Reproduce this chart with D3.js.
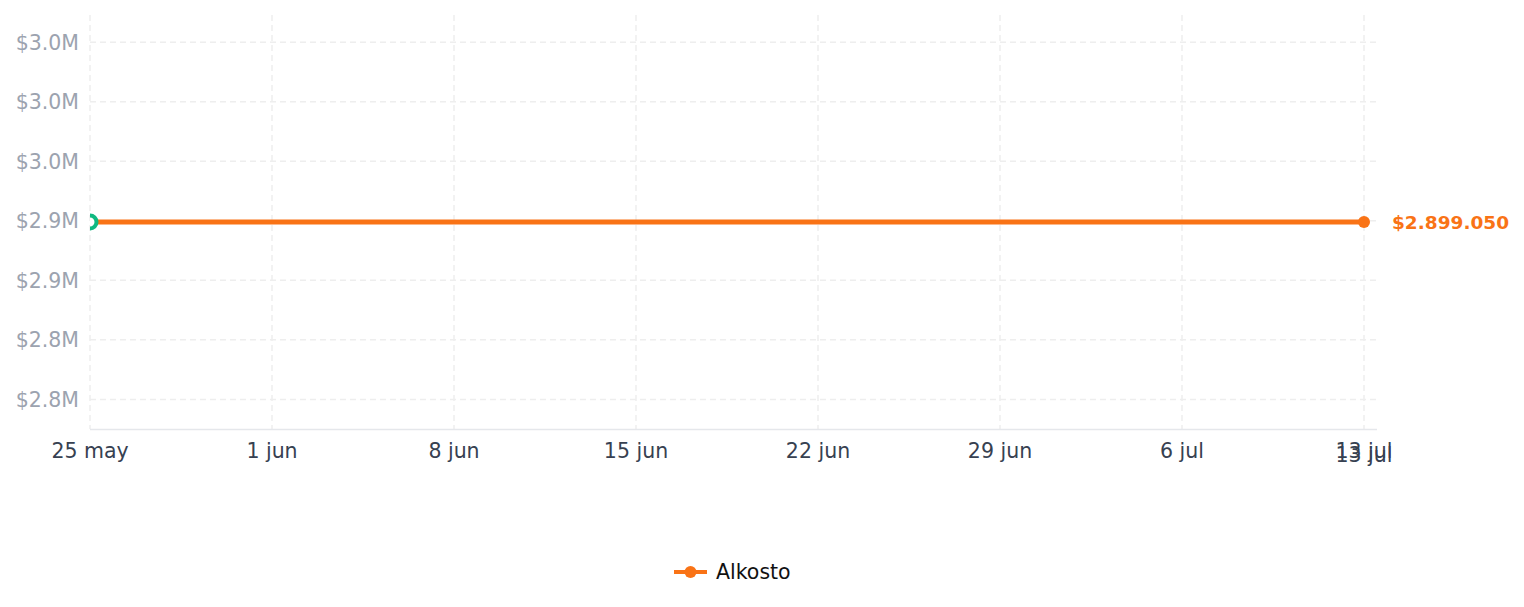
<!DOCTYPE html>
<html>
<head>
<meta charset="utf-8">
<script src="https://cdn.jsdelivr.net/npm/d3@7"></script>
<style>
  body { margin: 0; background: #fff; font-family: "DejaVu Sans", sans-serif; }
</style>
</head>
<body>
<svg id="chart" width="1524" height="607"></svg>
<script>
"use strict";

// data
const seriesName = "Alkosto";
const dates = ["2025-05-25", "2025-07-13"];
const prices = [2899050, 2899050];
const tickDates = ["2025-05-25", "2025-06-01", "2025-06-08", "2025-06-15", "2025-06-22", "2025-06-29", "2025-07-06", "2025-07-13"];
const tickLabels = ["25 may", "1 jun", "8 jun", "15 jun", "22 jun", "29 jun", "6 jul", "13 jul"];
const yTicks = [2750000, 2800000, 2850000, 2900000, 2950000, 3000000, 3050000];

const parse = d3.utcParse("%Y-%m-%d");
const data = dates.map((d, i) => ({ date: parse(d), value: prices[i] }));

const margins = { top: 15, right: 147, bottom: 178, left: 90 };
const w = 1524, h = 607;
const width = w - margins.left - margins.right;
const height = h - margins.top - margins.bottom;

const svg = d3.select("#chart");

// the last date sits half a day short of the right edge
const x = d3.scaleUtc()
  .domain([data[0].date, data[data.length - 1].date])
  .range([0, width - 13]);

const base = prices[0];
const y = d3.scaleLinear()
  .domain([base * 0.94, base * 1.06])
  .range([height, 0]);

const chart = svg.append("g")
  .attr("transform", `translate(${margins.left}, ${margins.top})`);

svg.append("defs").append("clipPath")
  .attr("id", "plot-clip")
  .append("rect")
  .attr("x", 0).attr("y", -10)
  .attr("width", width + 20).attr("height", height + 20);

// grid
chart.append("g").selectAll("line")
  .data(yTicks)
  .enter().append("line")
  .attr("x1", 0).attr("x2", width)
  .attr("y1", d => y(d)).attr("y2", d => y(d))
  .attr("stroke", "#eeeeee").attr("stroke-dasharray", "6 4").attr("stroke-width", 1.5);

chart.append("g").selectAll("line")
  .data(tickDates.map(parse))
  .enter().append("line")
  .attr("x1", d => x(d)).attr("x2", d => x(d))
  .attr("y1", 0).attr("y2", height)
  .attr("stroke", "#eeeeee").attr("stroke-dasharray", "6 4").attr("stroke-width", 1.5);

// y axis labels
chart.append("g").selectAll("text")
  .data(yTicks)
  .enter().append("text")
  .attr("x", -11)
  .attr("y", d => y(d))
  .attr("dy", "0.36em")
  .attr("text-anchor", "end")
  .attr("fill", "#9ca3af")
  .attr("font-size", 20.5)
  .text(d => "$" + (d / 1e6).toFixed(1) + "M");

// x axis
chart.append("line")
  .attr("x1", 0).attr("x2", width)
  .attr("y1", height + 0.5).attr("y2", height + 0.5)
  .attr("stroke", "#e5e7eb").attr("stroke-width", 1.5);

const xLabels = chart.append("g");
xLabels.selectAll("text")
  .data(tickDates)
  .enter().append("text")
  .attr("x", d => x(parse(d)))
  .attr("y", height + 29)
  .attr("text-anchor", "middle")
  .attr("fill", "#374151")
  .attr("font-size", 20.5)
  .text((d, i) => tickLabels[i]);

// the end label is drawn twice, a little lower the second time
xLabels.append("text")
  .attr("x", x(parse(tickDates[tickDates.length - 1])))
  .attr("y", height + 33)
  .attr("text-anchor", "middle")
  .attr("fill", "#374151")
  .attr("font-size", 20.5)
  .text(tickLabels[tickLabels.length - 1]);

// series
const line = d3.line()
  .x(d => x(d.date))
  .y(d => y(d.value));

const plot = chart.append("g").attr("clip-path", "url(#plot-clip)");

plot.append("path")
  .datum(data)
  .attr("d", line)
  .attr("fill", "none")
  .attr("stroke", "#f97316")
  .attr("stroke-width", 5);

// start marker sits on top of the line
plot.append("circle")
  .attr("cx", x(data[0].date))
  .attr("cy", y(data[0].value))
  .attr("r", 6.5)
  .attr("fill", "#fff")
  .attr("stroke", "#10b981")
  .attr("stroke-width", 4);

const last = data[data.length - 1];
plot.append("circle")
  .attr("cx", x(last.date))
  .attr("cy", y(last.value))
  .attr("r", 6)
  .attr("fill", "#f97316");

chart.append("text")
  .attr("x", x(last.date) + 28)
  .attr("y", y(last.value))
  .attr("dy", "0.36em")
  .attr("fill", "#f97316")
  .attr("font-size", 18.5)
  .attr("font-weight", "bold")
  .text("$" + d3.format(",")(last.value).replace(/,/g, "."));

// legend
const legend = svg.append("g").attr("transform", "translate(674, 572)");
legend.append("line")
  .attr("x1", 0).attr("x2", 33)
  .attr("stroke", "#f97316").attr("stroke-width", 4);
legend.append("circle")
  .attr("cx", 16.5).attr("r", 6)
  .attr("fill", "#f97316");
legend.append("text")
  .attr("x", 42).attr("dy", "0.36em")
  .attr("font-size", 20.5)
  .attr("fill", "#111")
  .text(seriesName);
</script>
</body>
</html>
